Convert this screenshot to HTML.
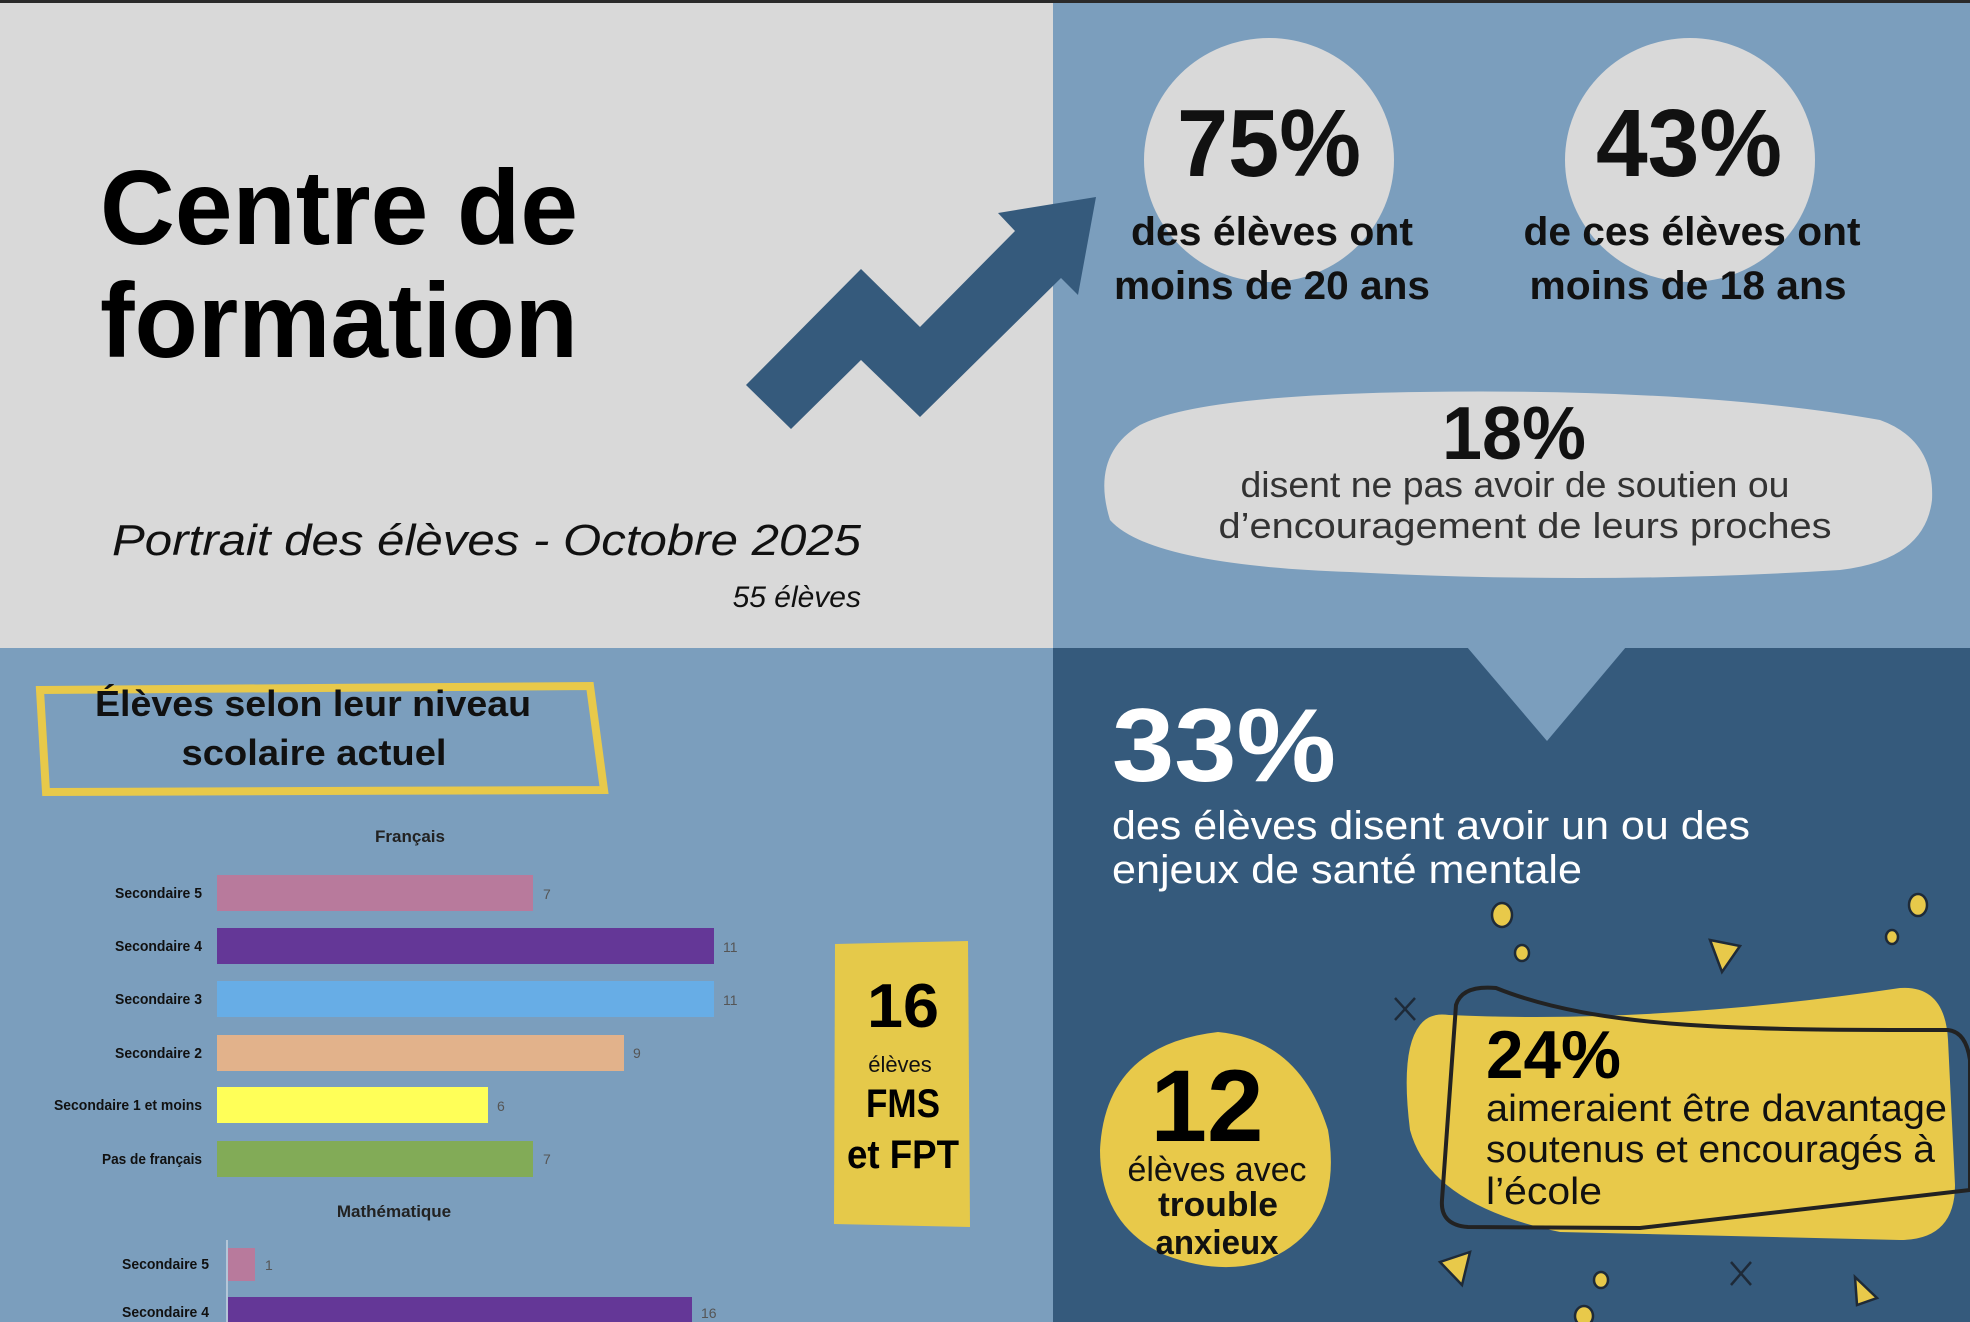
<!DOCTYPE html>
<html><head><meta charset="utf-8"><style>
html,body{margin:0;padding:0;}
body{width:1970px;height:1322px;overflow:hidden;background:#7b9ebd;}
svg{display:block;}
text{font-family:"Liberation Sans",sans-serif;}
</style></head><body>
<svg width="1970" height="1322" viewBox="0 0 1970 1322" xmlns="http://www.w3.org/2000/svg">
<!-- panels -->
<rect x="0" y="0" width="1053" height="648" fill="#d9d9d9"/>
<rect x="1053" y="0" width="917" height="648" fill="#7b9ebd"/>
<rect x="0" y="648" width="1053" height="674" fill="#7b9ebd"/>
<rect x="1053" y="648" width="917" height="674" fill="#355a7c"/>
<polygon points="1467,647 1626,647 1547,741" fill="#7b9ebd"/>
<rect x="0" y="0" width="1970" height="3" fill="#2a2a2a"/>

<!-- title -->
<text x="100" y="244" font-size="106" font-weight="bold" fill="#000" textLength="478" lengthAdjust="spacingAndGlyphs">Centre de</text>
<text x="100" y="357" font-size="106" font-weight="bold" fill="#000" textLength="478" lengthAdjust="spacingAndGlyphs">formation</text>
<text x="112" y="555" font-size="44" font-style="italic" fill="#111" textLength="749" lengthAdjust="spacingAndGlyphs">Portrait des élèves - Octobre 2025</text>
<text x="861" y="607" font-size="30" font-style="italic" fill="#111" text-anchor="end">55 élèves</text>

<!-- arrow -->
<polygon points="746,385 861,269 920,327 1015,231 998,213 1096,197 1078,295 1061,278 920,417 861,360 791,429" fill="#355a7c"/>

<!-- circles top right -->
<ellipse cx="1269" cy="160" rx="125" ry="122" fill="#d9d9d9"/>
<ellipse cx="1690" cy="160" rx="125" ry="122" fill="#d9d9d9"/>
<text x="1269" y="176" font-size="96" font-weight="bold" text-anchor="middle" fill="#111" textLength="184" lengthAdjust="spacingAndGlyphs">75%</text>
<text x="1689" y="176" font-size="96" font-weight="bold" text-anchor="middle" fill="#111" textLength="186" lengthAdjust="spacingAndGlyphs">43%</text>
<text x="1272" y="245" font-size="40" font-weight="bold" text-anchor="middle" fill="#111" textLength="282" lengthAdjust="spacingAndGlyphs">des élèves ont</text>
<text x="1272" y="299" font-size="40" font-weight="bold" text-anchor="middle" fill="#111" textLength="316" lengthAdjust="spacingAndGlyphs">moins de 20 ans</text>
<text x="1692" y="245" font-size="40" font-weight="bold" text-anchor="middle" fill="#111" textLength="337" lengthAdjust="spacingAndGlyphs">de ces élèves ont</text>
<text x="1688" y="299" font-size="40" font-weight="bold" text-anchor="middle" fill="#111" textLength="317" lengthAdjust="spacingAndGlyphs">moins de 18 ans</text>

<!-- 18% blob -->
<path d="M1140,425 Q1200,395 1420,392 Q1700,388 1880,420 Q1935,440 1932,500 Q1925,560 1840,570 Q1600,585 1350,572 Q1150,565 1110,520 Q1090,455 1140,425 Z" fill="#d9d9d9"/>
<text x="1514" y="459" font-size="75" font-weight="bold" text-anchor="middle" fill="#111" textLength="144" lengthAdjust="spacingAndGlyphs">18%</text>
<text x="1515" y="497" font-size="36" text-anchor="middle" fill="#333" textLength="549" lengthAdjust="spacingAndGlyphs">disent ne pas avoir de soutien ou</text>
<text x="1525" y="538" font-size="36" text-anchor="middle" fill="#333" textLength="613" lengthAdjust="spacingAndGlyphs">d’encouragement de leurs proches</text>

<!-- 33% -->
<text x="1112" y="781" font-size="104" font-weight="bold" fill="#fff" textLength="224" lengthAdjust="spacingAndGlyphs">33%</text>
<text x="1112" y="839" font-size="40" fill="#fff" textLength="638" lengthAdjust="spacingAndGlyphs">des élèves disent avoir un ou des</text>
<text x="1112" y="883" font-size="40" fill="#fff" textLength="470" lengthAdjust="spacingAndGlyphs">enjeux de santé mentale</text>

<!-- decorations -->
<g fill="#e8c94a" stroke="#1e2a38" stroke-width="2.5">
<ellipse cx="1502" cy="915" rx="10" ry="12"/>
<ellipse cx="1522" cy="953" rx="7" ry="8"/>
<ellipse cx="1918" cy="905" rx="9" ry="11"/>
<ellipse cx="1892" cy="937" rx="6" ry="7"/>
<ellipse cx="1601" cy="1280" rx="7" ry="8"/>
<ellipse cx="1584" cy="1316" rx="9" ry="10"/>
<polygon points="1710,940 1740,946 1722,972"/>
<polygon points="1440,1262 1470,1252 1462,1285"/>
<polygon points="1855,1277 1877,1298 1857,1305"/>
</g>
<g stroke="#1e2a38" stroke-width="2.5">
<line x1="1395" y1="998" x2="1415" y2="1020"/><line x1="1415" y1="998" x2="1395" y2="1020"/>
<line x1="1731" y1="1262" x2="1751" y2="1285"/><line x1="1751" y1="1262" x2="1731" y2="1285"/>
</g>

<!-- 12 blob -->
<path d="M1218,1032 Q1300,1040 1328,1130 Q1345,1230 1262,1262 Q1218,1275 1165,1255 Q1100,1225 1100,1150 Q1105,1045 1218,1032 Z" fill="#e8c94a"/>
<text x="1207" y="1141" font-size="102" font-weight="bold" text-anchor="middle" fill="#000" textLength="113" lengthAdjust="spacingAndGlyphs">12</text>
<text x="1217" y="1181" font-size="34" text-anchor="middle" fill="#111" textLength="179" lengthAdjust="spacingAndGlyphs">élèves avec</text>
<text x="1218" y="1216" font-size="34" font-weight="bold" text-anchor="middle" fill="#111" textLength="120" lengthAdjust="spacingAndGlyphs">trouble</text>
<text x="1217" y="1254" font-size="34" font-weight="bold" text-anchor="middle" fill="#111" textLength="123" lengthAdjust="spacingAndGlyphs">anxieux</text>

<!-- 24% blob -->
<path d="M1449,1015 C1600,1022 1750,1010 1900,988 Q1945,985 1948,1040 L1955,1185 Q1955,1240 1900,1240 L1560,1232 Q1430,1205 1410,1130 Q1400,1050 1420,1025 Q1430,1012 1449,1015 Z" fill="#e8c94a"/>
<path d="M1496,988 C1600,1030 1750,1030 1948,1030 Q1966,1032 1970,1060 L1970,1190 L1640,1228 L1468,1227 Q1440,1225 1442,1200 L1456,1005 Q1462,985 1496,988 Z" fill="none" stroke="#222" stroke-width="4"/>
<text x="1486" y="1078" font-size="68" font-weight="bold" fill="#000" textLength="135" lengthAdjust="spacingAndGlyphs">24%</text>
<text x="1486" y="1121" font-size="38" fill="#111" textLength="461" lengthAdjust="spacingAndGlyphs">aimeraient être davantage</text>
<text x="1486" y="1162" font-size="38" fill="#111" textLength="449" lengthAdjust="spacingAndGlyphs">soutenus et encouragés à</text>
<text x="1486" y="1204" font-size="38" fill="#111" textLength="116" lengthAdjust="spacingAndGlyphs">l’école</text>

<!-- label box -->
<path d="M40,690 L590,686 L604,790 L46,792 Z" fill="none" stroke="#e8c94a" stroke-width="8"/>
<text x="313" y="716" font-size="36" font-weight="bold" text-anchor="middle" fill="#111" textLength="436" lengthAdjust="spacingAndGlyphs">Élèves selon leur niveau</text>
<text x="314" y="765" font-size="36" font-weight="bold" text-anchor="middle" fill="#111" textLength="265" lengthAdjust="spacingAndGlyphs">scolaire actuel</text>

<!-- chart Français -->
<text x="410" y="842" font-size="17" font-weight="bold" text-anchor="middle" fill="#222">Français</text>
<g>
<rect x="217" y="875" width="316" height="36" fill="#b87a9c"/>
<rect x="217" y="928" width="497" height="36" fill="#643797"/>
<rect x="217" y="981" width="497" height="36" fill="#67ade6"/>
<rect x="217" y="1035" width="407" height="36" fill="#e2b28b"/>
<rect x="217" y="1087" width="271" height="36" fill="#ffff58"/>
<rect x="217" y="1141" width="316" height="36" fill="#82ab57"/>
</g>
<g font-size="15" font-weight="bold" fill="#111" text-anchor="end">
<text x="202" y="898" textLength="87" lengthAdjust="spacingAndGlyphs">Secondaire 5</text>
<text x="202" y="951" textLength="87" lengthAdjust="spacingAndGlyphs">Secondaire 4</text>
<text x="202" y="1004" textLength="87" lengthAdjust="spacingAndGlyphs">Secondaire 3</text>
<text x="202" y="1058" textLength="87" lengthAdjust="spacingAndGlyphs">Secondaire 2</text>
<text x="202" y="1110" textLength="148" lengthAdjust="spacingAndGlyphs">Secondaire 1 et moins</text>
<text x="202" y="1164" textLength="100" lengthAdjust="spacingAndGlyphs">Pas de français</text>
</g>
<g font-size="14" fill="#555">
<text x="543" y="899">7</text>
<text x="723" y="952">11</text>
<text x="723" y="1005">11</text>
<text x="633" y="1058">9</text>
<text x="497" y="1111">6</text>
<text x="543" y="1164">7</text>
</g>
<text x="394" y="1217" font-size="17" font-weight="bold" text-anchor="middle" fill="#222">Mathématique</text>
<line x1="227" y1="1240" x2="227" y2="1322" stroke="#c8d4e0" stroke-width="1.5"/>
<rect x="228" y="1248" width="27" height="33" fill="#b87a9c"/>
<rect x="228" y="1297" width="464" height="30" fill="#643797"/>
<g font-size="15" font-weight="bold" fill="#111" text-anchor="end">
<text x="209" y="1269" textLength="87" lengthAdjust="spacingAndGlyphs">Secondaire 5</text>
<text x="209" y="1317" textLength="87" lengthAdjust="spacingAndGlyphs">Secondaire 4</text>
</g>
<text x="265" y="1270" font-size="14" fill="#555">1</text>
<text x="701" y="1318" font-size="14" fill="#555">16</text>

<!-- 16 box -->
<path d="M835,944 L968,941 L970,1227 L834,1224 Z" fill="#e5c94a"/>
<text x="903" y="1027" font-size="62" font-weight="bold" text-anchor="middle" fill="#000" textLength="72" lengthAdjust="spacingAndGlyphs">16</text>
<text x="900" y="1072" font-size="22" text-anchor="middle" fill="#111">élèves</text>
<text x="903" y="1117" font-size="40" font-weight="bold" text-anchor="middle" fill="#000" textLength="74" lengthAdjust="spacingAndGlyphs">FMS</text>
<text x="903" y="1168" font-size="40" font-weight="bold" text-anchor="middle" fill="#000" textLength="112" lengthAdjust="spacingAndGlyphs">et FPT</text>
</svg>
</body></html>
